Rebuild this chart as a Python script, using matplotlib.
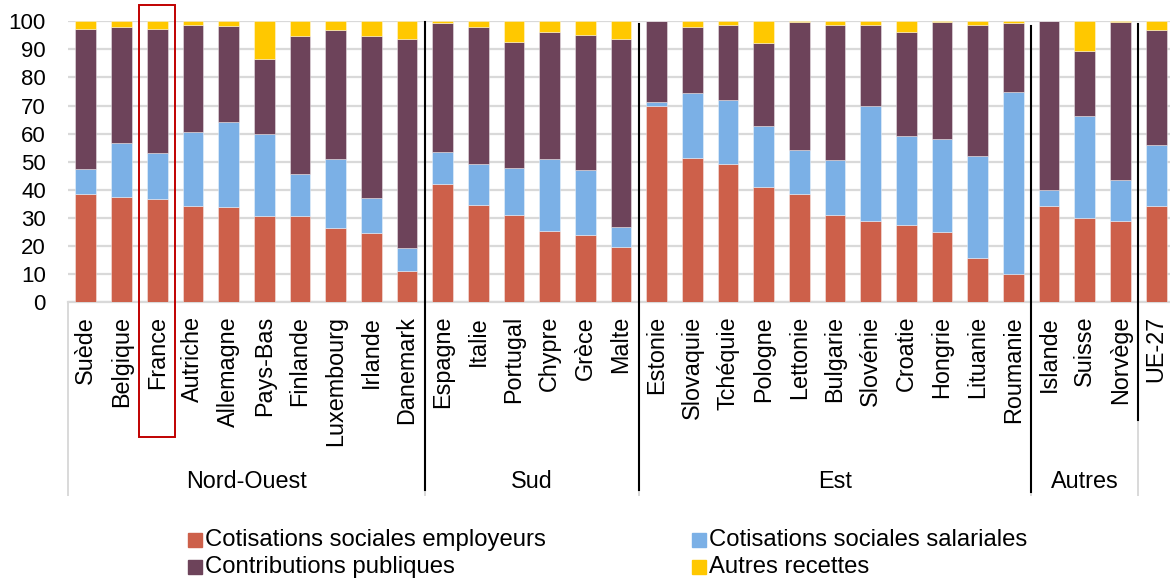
import matplotlib
matplotlib.use("Agg")
import matplotlib.pyplot as plt
import matplotlib.transforms as mtransforms
from matplotlib.patches import Rectangle
import numpy as np

plt.rcParams['font.family'] = ['Liberation Sans', 'DejaVu Sans']

countries = ["Suède", "Belgique", "France", "Autriche", "Allemagne", "Pays-Bas",
             "Finlande", "Luxembourg", "Irlande", "Danemark",
             "Espagne", "Italie", "Portugal", "Chypre", "Grèce", "Malte",
             "Estonie", "Slovaquie", "Tchéquie", "Pologne", "Lettonie", "Bulgarie",
             "Slovénie", "Croatie", "Hongrie", "Lituanie", "Roumanie",
             "Islande", "Suisse", "Norvège", "UE-27"]

employeurs = [38.3, 37.5, 36.7, 34.2, 33.7, 30.8, 30.7, 26.4, 24.6, 11.2,
              41.9, 34.5, 30.9, 25.3, 23.8, 19.6,
              69.9, 51.4, 49.3, 41.0, 38.4, 31.0, 28.7, 27.5, 24.9, 15.7, 9.8,
              34.2, 30.0, 28.9, 34.2]
salariales = [9.0, 19.1, 16.3, 26.2, 30.4, 29.2, 15.0, 24.5, 12.3, 8.1,
              11.4, 14.8, 17.0, 25.6, 23.2, 7.2,
              1.4, 22.9, 22.6, 21.7, 15.6, 19.7, 41.0, 31.8, 33.2, 36.3, 65.0,
              5.8, 36.2, 14.7, 21.6]
publiques = [50.1, 41.3, 44.1, 38.2, 34.4, 26.6, 49.2, 45.9, 58.0, 74.5,
             46.2, 48.8, 44.6, 45.3, 48.2, 66.8,
             28.7, 23.8, 26.9, 29.7, 45.8, 47.9, 28.9, 36.9, 41.5, 46.8, 24.5,
             60.0, 23.3, 56.2, 41.1]
autres = [2.6, 2.1, 2.9, 1.4, 1.5, 13.4, 5.1, 3.2, 5.1, 6.2,
          0.5, 1.9, 7.5, 3.8, 4.8, 6.4,
          0.0, 1.9, 1.2, 7.6, 0.2, 1.4, 1.4, 3.8, 0.4, 1.2, 0.7,
          0.0, 10.5, 0.2, 3.1]

groups = ["Nord-Ouest", "Sud", "Est", "Autres"]
group_sizes = [10, 6, 11, 3]

series_names = ["Cotisations sociales employeurs", "Cotisations sociales salariales",
                "Contributions publiques", "Autres recettes"]
colors = ["#CD604A", "#7BB0E6", "#6D435A", "#FFC800"]

W, H = 1170, 582
fig = plt.figure(figsize=(W / 100, H / 100), dpi=100)
ax = fig.add_axes([68 / W, (H - 302) / H, 1106 / W, 280.7 / H])

x = np.arange(len(countries))
bottom = np.zeros(len(countries))
for vals, col in zip([employeurs, salariales, publiques, autres], colors):
    v = np.array(vals)
    ax.bar(x, v, bottom=bottom, width=0.58, color=col,
           edgecolor=(1, 1, 1, 0.45), linewidth=0.6, zorder=3)
    bottom += v

ax.set_xlim(-0.5, len(countries) - 0.5)
ax.set_ylim(0, 100)
ax.set_yticks(np.arange(0, 101, 10))
ax.yaxis.grid(True, color="#d9d9d9", linewidth=1.6, zorder=0)
ax.set_axisbelow(True)
for s in ["top", "right", "left"]:
    ax.spines[s].set_visible(False)
ax.spines["bottom"].set_color("#d9d9d9")
ax.spines["bottom"].set_linewidth(1.6)
ax.tick_params(axis="y", length=0, pad=16, labelsize=16)
ax.tick_params(axis="x", length=0, pad=10, labelsize=16.8)
ax.set_xticks(x)
ax.set_xticklabels(countries, rotation=90, va="top", ha="center")

# blended transform: x in data units, y in figure pixels from top
def ypx(p):
    return 1 - p / H

tr = mtransforms.blended_transform_factory(ax.transData, fig.transFigure)

# light axis dividers of the category axis
bounds = np.cumsum(group_sizes) - 0.5
for bx in [-0.5] + list(bounds):
    fig.add_artist(plt.Line2D([bx, bx], [ypx(302), ypx(495)], transform=tr,
                              color="#d9d9d9", lw=1.4, zorder=1))

# group separators
sep_spans = [(bounds[0], 22, 490), (bounds[1], 24, 490),
             (bounds[2], 26, 492), (bounds[3], 24, 420)]
for bx, y0, y1 in sep_spans:
    fig.add_artist(plt.Line2D([bx, bx], [ypx(y0), ypx(y1)], transform=tr,
                              color="black", lw=1.5, zorder=5))

# group labels
start = 0
for name, n in zip(groups, group_sizes):
    cx = start + (n - 1) / 2
    fig.text(cx, ypx(481), name, transform=tr, ha="center", va="center",
             fontsize=16.8)
    start += n

# highlight box around France
fi = countries.index("France")
fig.add_artist(Rectangle((fi - 0.5, ypx(437)), 1.0, ypx(5) - ypx(437),
                         transform=tr, fill=False, edgecolor="#C00000",
                         lw=1.4, zorder=6))

# legend, two columns
legend_items = [(series_names[0], colors[0], 188, 540),
                (series_names[1], colors[1], 692, 540),
                (series_names[2], colors[2], 188, 567),
                (series_names[3], colors[3], 692, 567)]
for label, col, px, py in legend_items:
    fig.add_artist(Rectangle((px / W, ypx(py + 7)), 14 / W, 14 / H,
                             transform=fig.transFigure, color=col))
    fig.text((px + 17) / W, ypx(py), label, ha="left", va="center",
             fontsize=17.2)

fig.savefig("out.png", dpi=100)
